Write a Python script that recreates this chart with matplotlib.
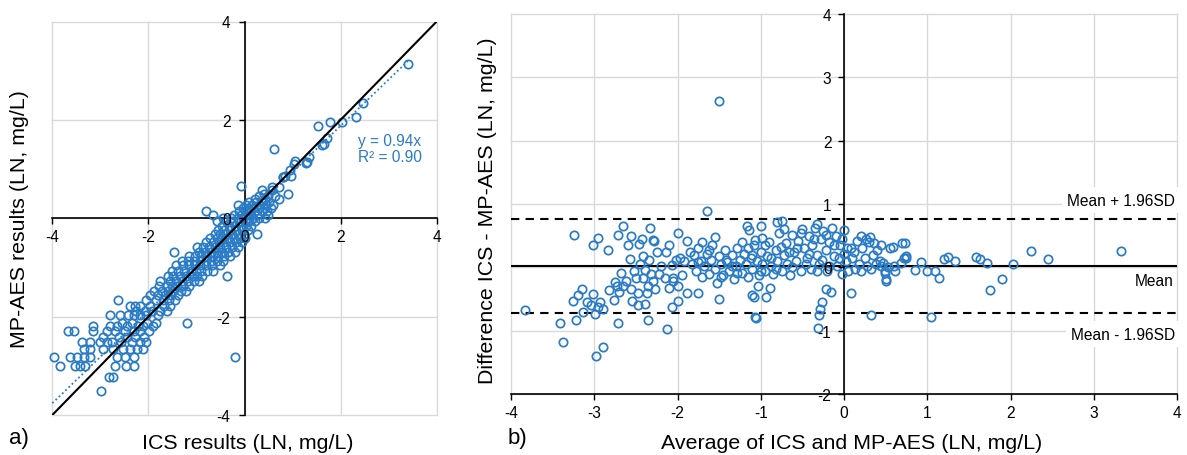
import matplotlib
matplotlib.use("Agg")
import matplotlib.pyplot as plt

plt.rcParams['font.family'] = ['Liberation Sans', 'DejaVu Sans']
plt.rcParams['axes.unicode_minus'] = False

# ---------------- data ----------------
# a) ICS vs MP-AES (natural log of mg/L)
ics_results = [
    -2.99,
    -2.83, -2.74,
    -3.85, -3.53, -3.42, -3.32, -2.69, -2.46, -2.30,
    -3.96, -3.63, -3.49, -3.35, -3.22, -2.66, -2.49, -2.31,
    -3.35, -3.22, -2.94, -2.73, -2.52, -2.38, -2.24, -2.11,
    -3.39, -3.22, -3.01, -2.87, -2.76, -2.56, -2.35, -2.17, -2.04,
    -2.95, -2.62, -2.45, -2.28, -2.10,
    -3.67, -3.54, -3.15, -2.87, -2.70, -2.49, -2.31, -2.17, -1.98,
    -3.15, -2.79, -2.66, -2.45, -2.21, -2.11, -1.90,
    -2.55, -2.35, -2.02, -1.85, -1.20,
    -2.80, -2.59, -2.42, -2.31, -2.17, -2.04, -1.80,
    -2.25, -2.08, -1.92, -1.75, -1.62,
    -2.38, -2.28, -2.17, -1.97, -1.68, -1.55,
    -2.63, -2.05, -1.85, -1.70, -1.58, -1.45,
    -1.97, -1.80, -1.66, -1.52, -1.38,
    -1.88, -1.72, -1.60, -1.48, -1.33, -1.22,
    -1.77, -1.62, -1.50, -1.40, -1.28, -1.15,
    -1.76, -1.55, -1.42, -1.30, -1.18, -1.05, -0.95,
    -1.60, -1.48, -1.35, -1.22, -1.10, -0.98, -0.88, -0.37,
    -1.50, -1.38, -1.25, -1.12, -1.00, -0.90, -0.78, -0.66,
    -1.42, -1.28, -1.15, -1.02, -0.92, -0.80, -0.68, -0.52,
    -1.30, -1.18, -1.05, -0.92, -0.80, -0.70, -0.58, -0.44,
    -1.15, -1.02, -0.90, -0.78, -0.66, -0.55, -0.42, -0.30,
    -1.47, -0.95, -0.82, -0.70, -0.58, -0.46, -0.34, -0.20,
    -0.98, -0.86, -0.74, -0.62, -0.50, -0.38, -0.26, -0.14,
    -0.80, -0.66, -0.54, -0.42, -0.30, -0.18, -0.06,
    -0.72, -0.58, -0.46, -0.34, -0.22, -0.10, 0.02,
    -0.62, -0.50, -0.38, -0.26, -0.14, -0.02, 0.25,
    -0.55, -0.42, -0.30, -0.18, -0.06, 0.08,
    -0.46, -0.32, -0.20, -0.08, 0.04, 0.14,
    -0.58, -0.38, -0.24, -0.12, 0.00, 0.10, 0.22,
    -0.45, -0.28, -0.14, -0.03, 0.08, 0.18, 0.30, 0.42,
    -0.66, -0.22, -0.08, 0.04, 0.14, 0.26, 0.48,
    -0.80, -0.12, 0.00, 0.12, 0.22, 0.36, 0.46,
    -0.04, 0.08, 0.18, 0.30, 0.42, 0.56,
    -0.13, 0.04, 0.16, 0.30, 0.44, 0.60,
    0.10, 0.24, 0.36, 0.50,
    0.22, 0.42, 0.72,
    0.30, 0.48, 0.63,
    0.40, 0.91,
    0.37, 0.57,
    0.57, 0.80, 0.72,
    -0.08,
    0.81, 0.85, 0.95, 0.97, 1.05, 1.03, 1.28, 1.30, 1.35, 1.62,
    1.65, 1.71, 1.54, 1.78, 2.02, 2.33, 2.47, 3.40, 0.61, -0.20,
]
mpaes_results = [
    -3.51,
    -3.23, -3.23,
    -3.00, -3.00, -3.00, -3.00, -3.00, -3.00, -3.00,
    -2.83, -2.83, -2.83, -2.83, -2.83, -2.83, -2.83, -2.83,
    -2.66, -2.66, -2.66, -2.66, -2.66, -2.66, -2.66, -2.66,
    -2.52, -2.52, -2.52, -2.52, -2.52, -2.52, -2.52, -2.52, -2.52,
    -2.41, -2.41, -2.41, -2.41, -2.41,
    -2.30, -2.30, -2.30, -2.30, -2.30, -2.30, -2.30, -2.30, -2.30,
    -2.20, -2.20, -2.20, -2.20, -2.20, -2.20, -2.20,
    -2.12, -2.12, -2.12, -2.12, -2.12,
    -1.97, -1.97, -1.97, -1.97, -1.97, -1.97, -1.97,
    -1.88, -1.88, -1.88, -1.88, -1.88,
    -1.78, -1.78, -1.78, -1.78, -1.78, -1.78,
    -1.67, -1.67, -1.67, -1.67, -1.67, -1.67,
    -1.57, -1.57, -1.57, -1.57, -1.57,
    -1.47, -1.47, -1.47, -1.47, -1.47, -1.47,
    -1.38, -1.38, -1.38, -1.38, -1.38, -1.38,
    -1.27, -1.27, -1.27, -1.27, -1.27, -1.27, -1.27,
    -1.17, -1.17, -1.17, -1.17, -1.17, -1.17, -1.17, -1.17,
    -1.07, -1.07, -1.07, -1.07, -1.07, -1.07, -1.07, -1.07,
    -0.96, -0.96, -0.96, -0.96, -0.96, -0.96, -0.96, -0.96,
    -0.86, -0.86, -0.86, -0.86, -0.86, -0.86, -0.86, -0.86,
    -0.76, -0.76, -0.76, -0.76, -0.76, -0.76, -0.76, -0.76,
    -0.68, -0.68, -0.68, -0.68, -0.68, -0.68, -0.68, -0.68,
    -0.58, -0.58, -0.58, -0.58, -0.58, -0.58, -0.58, -0.58,
    -0.49, -0.49, -0.49, -0.49, -0.49, -0.49, -0.49,
    -0.40, -0.40, -0.40, -0.40, -0.40, -0.40, -0.40,
    -0.32, -0.32, -0.32, -0.32, -0.32, -0.32, -0.32,
    -0.23, -0.23, -0.23, -0.23, -0.23, -0.23,
    -0.15, -0.15, -0.15, -0.15, -0.15, -0.15,
    -0.06, -0.06, -0.06, -0.06, -0.06, -0.06, -0.06,
    0.00, 0.00, 0.00, 0.00, 0.00, 0.00, 0.00, 0.00,
    0.07, 0.07, 0.07, 0.07, 0.07, 0.07, 0.07,
    0.14, 0.14, 0.14, 0.14, 0.14, 0.14, 0.14,
    0.20, 0.20, 0.20, 0.20, 0.20, 0.20,
    0.26, 0.26, 0.26, 0.26, 0.26, 0.26,
    0.33, 0.33, 0.33, 0.33,
    0.39, 0.39, 0.39,
    0.46, 0.46, 0.46,
    0.50, 0.50,
    0.58, 0.58,
    0.63, 0.83, 0.64,
    0.66,
    0.83, 0.85, 0.98, 0.85, 1.17, 1.10, 1.13, 1.14, 1.24, 1.48,
    1.50, 1.63, 1.88, 1.95, 1.95, 2.05, 2.34, 3.14, 1.40, -2.83,
]
slope_fit = 0.94
r_squared = 0.90
fit_x_range = [-4.0, 3.40]

# b) Bland-Altman: average vs difference
ba_average = [
    -3.83, -3.41, -3.38, -2.98, -2.90,
    -3.24, -3.02, -2.96, -2.83,
    -3.22, -3.15, -3.20, -3.25, -3.09, -3.01, -2.93, -2.99, -3.14, -2.89, -2.71, -2.96, -3.04,
    -2.82, -2.75, -2.68, -2.76, -2.70, -2.73, -2.65,
    -2.66, -2.72, -2.60, -2.56, -2.57, -2.62, -2.56, -2.55, -2.48, -2.50,
    -2.46, -2.43, -2.33, -2.30, -2.28, -2.41, -2.39, -2.34, -2.42, -2.35, -2.30, -2.25, -2.47, -2.37, -2.39, -2.36, -2.27, -2.22,
    -2.13, -2.14, -2.10, -2.00, -2.07, -2.00, -2.15, -2.10, -2.05, -2.00, -1.89, -1.89, -2.07, -2.02, -1.97, -1.92, -1.85, -1.82, -1.75, -1.95, -2.06, -2.20, -2.45, -2.32, -2.52,
    -1.64, -1.06, -1.07, -1.50, -1.11, -1.08, -1.03, -0.94, -0.89, -0.31, -0.30, -0.29, -0.27, -0.22, -0.16, 0.09, 0.32,
    -0.32, -0.75, -0.80, -1.00, -1.17, -1.14, -0.98, -1.07, 0.00, 0.21, 0.31, 0.45, 0.49, 0.51, -1.50,
    -1.80, -1.78, -1.75, -1.72, -1.70, -1.68, -1.65, -1.62, -1.60, -1.58, -1.55, -1.53, -1.50, -1.48, -1.45, -1.43,
    -1.40, -1.38, -1.35, -1.32, -1.30, -1.28, -1.25, -1.22, -1.20, -1.18, -1.15, -1.12, -1.10, -1.08, -1.05, -1.02,
    -1.00, -0.98, -0.95, -0.92, -0.90, -0.88, -0.85, -0.82, -0.80, -0.78, -0.75, -0.72, -0.70, -0.68, -0.65, -0.62,
    -0.60, -0.58, -0.55, -0.52, -0.50, -0.48, -0.45, -0.42, -0.40, -0.38, -0.35, -0.33, -0.30, -0.28, -0.25, -0.22,
    -0.20, -0.18, -0.15, -0.12, -0.10, -0.08, -0.05, -0.03, 0.00, 0.03, 0.05, 0.08, 0.10, 0.13, 0.16, 0.18,
    0.22, 0.25, 0.28, 0.30, 0.35, 0.38, 0.40, 0.43, 0.55, 0.60, 0.70, 0.72,
    -1.75, -1.70, -1.62, -1.55, -1.48, -1.42, -1.35, -1.28, -1.22, -1.15, -1.10, -1.00, -0.95, -0.88, -0.82, -0.76,
    -0.72, -0.66, -0.62, -0.56, -0.52, -0.46, -0.42, -0.36, -0.32, -0.26, -0.22, -0.18, -0.12, -0.06, -0.02, 0.04,
    0.12, 0.20, 0.26, 0.33, 0.36, 0.45,
    3.33, 2.25, 2.45, 2.03, 1.90, 1.75, 1.72, 1.63, 1.58, 1.33, 1.25, 1.20, 1.04, 1.14,
    1.09, 1.00, 0.93, 0.85, 0.74, 0.75, 0.73, 0.69, 0.61, 0.59, 0.50, 0.49, 0.53, 0.47,
]
ba_difference = [
    -0.67, -0.88, -1.17, -1.39, -1.26,
    0.51, 0.35, 0.46, 0.28,
    -0.83, -0.34, -0.44, -0.53, -0.55, -0.42, -0.55, -0.74, -0.70, -0.66, -0.87, -0.62, -0.60,
    -0.35, -0.23, -0.08, -0.51, -0.39, -0.29, -0.29,
    0.65, 0.51, 0.36, 0.49, 0.14, -0.22, -0.34, -0.53, -0.60, -0.17,
    0.37, 0.45, 0.62, 0.44, 0.41, 0.18, -0.04, 0.11, -0.17, -0.29, -0.21, 0.25, -0.40, -0.40, -0.58, -0.83, -0.34, -0.11,
    -0.97, 0.25, 0.35, 0.54, -0.63, -0.53, -0.16, -0.32, -0.17, -0.30, -0.40, 0.42, 0.04, 0.12, 0.15, 0.10, 0.25, 0.05, -0.41, -0.12, -0.22, 0.03, 0.05, -0.10, -0.05,
    0.89, -0.79, -0.78, -0.50, -0.44, -0.46, -0.30, -0.46, -0.32, -0.96, -0.75, -0.66, -0.54, -0.34, -0.39, -0.41, -0.75,
    0.68, 0.74, 0.71, 0.66, 0.65, 0.59, 0.47, 0.43, 0.59, 0.50, 0.48, 0.35, -0.08, -0.18, 2.62,
    0.20, -0.05, 0.30, 0.10, -0.15, 0.02, 0.22, -0.10, 0.12, 0.35, -0.02, -0.25, 0.18, 0.05, -0.12, 0.28,
    0.08, -0.05, 0.20, -0.18, 0.02, 0.30, 0.12, -0.08, 0.22, 0.05, -0.15, 0.15, -0.02, 0.35, 0.10, -0.12,
    0.25, 0.05, -0.05, 0.18, 0.40, 0.02, -0.10, 0.28, 0.10, 0.55, -0.05, 0.20, 0.38, 0.05, -0.12, 0.52,
    0.25, 0.10, 0.42, -0.05, 0.60, 0.30, 0.15, 0.50, -0.02, 0.35, 0.62, 0.20, 0.05, 0.45, 0.58, 0.28,
    -0.05, 0.40, 0.62, 0.18, 0.50, 0.02, 0.35, -0.10, 0.22, 0.10, -0.05, 0.30, 0.15, -0.02, 0.42, 0.05,
    0.30, 0.15, 0.02, 0.40, 0.20, 0.05, 0.28, 0.10, 0.30, 0.02, 0.38, 0.15,
    0.08, 0.40, 0.28, 0.48, -0.15, 0.12, 0.02, -0.08, 0.40, 0.30, 0.20, -0.05, 0.35, 0.15, -0.02, 0.32,
    0.60, 0.25, 0.00, 0.30, 0.55, 0.05, 0.22, 0.45, -0.05, 0.12, 0.52, 0.02, 0.35, 0.15, 0.45, 0.30,
    0.25, -0.05, 0.45, -0.02, 0.38, 0.02,
    0.26, 0.26, 0.14, 0.05, -0.18, -0.35, 0.07, 0.14, 0.16, 0.10, 0.17, 0.13, -0.78, -0.16,
    -0.06, -0.05, 0.09, -0.04, 0.18, 0.15, 0.39, 0.07, -0.05, 0.33, -0.21, -0.05, 0.00, 0.07,
]
mean_diff = 0.02
upper_loa = 0.76
lower_loa = -0.72

# ---------------- styling ----------------
BLUE = '#2A7BC6'
GRID = '#D9D9D9'
TICK_FS = 11.2
LABEL_FS = 15.4
W, H = 1187, 456
fig = plt.figure(figsize=(W / 100, H / 100), dpi=100)


def px_box(left, top, right, bottom):
    return [left / W, 1 - bottom / H, (right - left) / W, (bottom - top) / H]


def style_axes(ax, xticks, yticks):
    ax.set_xlim(xticks[0], xticks[-1])
    ax.set_ylim(yticks[0], yticks[-1])
    ax.set_xticks(xticks)
    ax.set_yticks(yticks)
    for side in ('top', 'right'):
        ax.spines[side].set_visible(False)
    for side in ('left', 'bottom'):
        ax.spines[side].set_color('black')
        ax.spines[side].set_linewidth(1.2)
        ax.spines[side].set_zorder(2)
    # light grid drawn underneath the data
    for v in xticks:
        ax.axvline(v, color=GRID, linewidth=1.0, zorder=0, clip_on=False)
    for v in yticks:
        ax.axhline(v, color=GRID, linewidth=1.0, zorder=0, clip_on=False)
    ax.tick_params(direction='out', length=4, width=1.0, colors='black',
                   labelsize=TICK_FS, pad=4)
    # tick labels stay readable on top of the markers
    ax.xaxis.set_zorder(6)
    ax.yaxis.set_zorder(6)


marker_style = dict(linestyle='none', marker='o', markersize=6.0,
                    markerfacecolor='none', markeredgecolor=BLUE,
                    markeredgewidth=1.25, zorder=3)

# ---------------- panel a ----------------
ax1 = fig.add_axes(px_box(52.3, 22.5, 436.7, 416))
style_axes(ax1, [-4, -2, 0, 2, 4], [-4, -2, 0, 2, 4])
ax1.spines['left'].set_position(('data', 0))
ax1.spines['bottom'].set_position(('data', 0))
ax1.tick_params(axis='y', pad=6)

ax1.plot(ics_results, mpaes_results, clip_on=False, **marker_style)
ax1.plot(fit_x_range, [slope_fit * v for v in fit_x_range], linestyle=(0, (1, 1.5)),
         color=BLUE, linewidth=1.3, zorder=4)
ax1.plot([-4, 4], [-4, 4], color='black', linewidth=1.5, zorder=4)
ax1.text(2.36, 1.42, f"y = {slope_fit:.2f}x\nR² = {r_squared:.2f}", color=BLUE,
         fontsize=TICK_FS, ha='left', va='center', linespacing=1.1)

fig.text(20 / W, 1 - 219 / H, 'MP-AES results (LN, mg/L)', rotation=90,
         ha='center', va='center', fontsize=LABEL_FS)
fig.text(248 / W, 1 - 444 / H, 'ICS results (LN, mg/L)', ha='center', va='center',
         fontsize=LABEL_FS)
fig.text(9 / W, 1 - 439 / H, 'a)', ha='left', va='center', fontsize=16)

# ---------------- panel b ----------------
ax2 = fig.add_axes(px_box(511, 15, 1177, 395.2))
style_axes(ax2, list(range(-4, 5)), list(range(-2, 5)))
ax2.spines['left'].set_position(('data', 0))
ax2.tick_params(axis='y', pad=5)

ax2.axhline(mean_diff, color='black', linewidth=1.5, zorder=2)
ax2.axhline(upper_loa, color='black', linewidth=1.5, linestyle=(0, (4, 3)), zorder=2)
ax2.axhline(lower_loa, color='black', linewidth=1.5, linestyle=(0, (4, 3)), zorder=2)
ax2.plot(ba_average, ba_difference, **marker_style)

label_box = dict(facecolor='white', edgecolor='none', pad=4)
ax2.text(3.98, 1.06, 'Mean + 1.96SD', ha='right', va='center', fontsize=TICK_FS,
         bbox=label_box, zorder=5)
ax2.text(3.96, -0.21, 'Mean', ha='right', va='center', fontsize=TICK_FS, zorder=5)
ax2.text(3.98, -1.05, 'Mean - 1.96SD', ha='right', va='center', fontsize=TICK_FS,
         bbox=label_box, zorder=5)

fig.text(487 / W, 1 - 211 / H, 'Difference ICS - MP-AES (LN, mg/L)', rotation=90,
         ha='center', va='center', fontsize=LABEL_FS)
fig.text(852 / W, 1 - 444 / H, 'Average of ICS and MP-AES (LN, mg/L)', ha='center',
         va='center', fontsize=LABEL_FS)
fig.text(508 / W, 1 - 439 / H, 'b)', ha='left', va='center', fontsize=16)

fig.savefig('out.png', dpi=100, facecolor='white')
